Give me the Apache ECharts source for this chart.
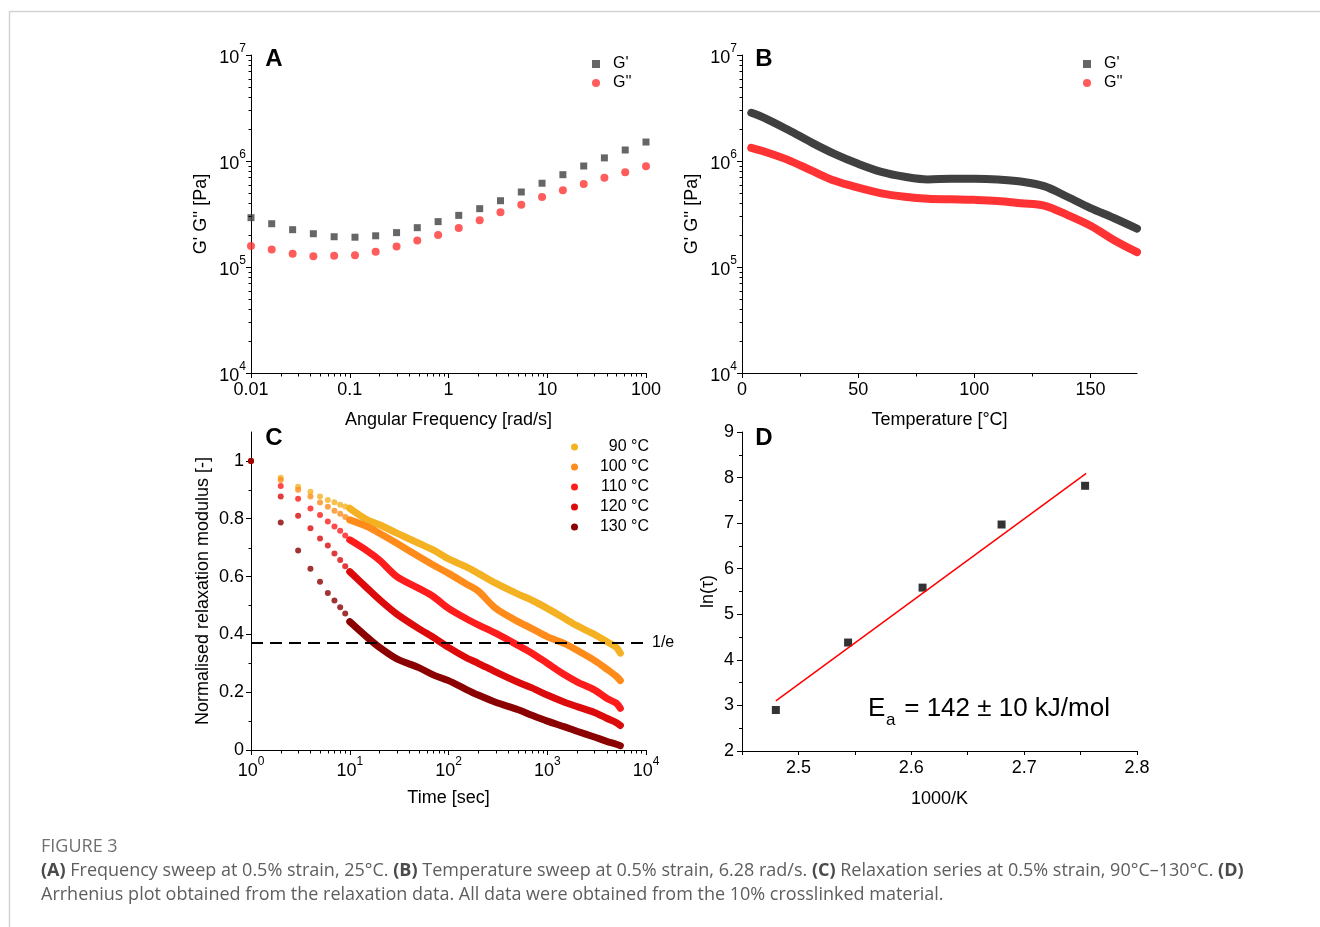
<!DOCTYPE html>
<html><head><meta charset="utf-8">
<script src="https://cdn.jsdelivr.net/npm/echarts@6/dist/echarts.min.js"></script>
<style>html,body{margin:0;padding:0;background:#fff}#c{width:1320px;height:927px}</style>
</head><body><div id="c"></div><script>
// ---------- Panel A: frequency sweep ----------
const freqA = [0.01,0.0162,0.0264,0.0428,0.0695,0.113,0.183,0.298,0.483,0.785,1.27,2.07,3.36,5.46,8.86,14.4,23.4,37.9,61.6,100];
const gPrimeA = [2.92e5,2.56e5,2.25e5,2.06e5,1.93e5,1.91e5,1.97e5,2.11e5,2.35e5,2.68e5,3.07e5,3.55e5,4.22e5,5.10e5,6.17e5,7.43e5,8.97e5,1.07e6,1.27e6,1.51e6];
const gDoubleA = [1.58e5,1.46e5,1.33e5,1.26e5,1.28e5,1.29e5,1.39e5,1.56e5,1.78e5,2.0e5,2.33e5,2.76e5,3.28e5,3.87e5,4.57e5,5.29e5,6.06e5,6.95e5,7.82e5,8.91e5];
const freqTickLabels = {'-2':'0.01','-1':'0.1','0':'1','1':'10','2':'100'};

// ---------- Panel B: temperature sweep ----------
const tempB = [4,10,20,30,40,50,60,70,80,90,100,110,120,130,140,150,160,170];
const gPrimeB = [2.85e6,2.53e6,1.96e6,1.49e6,1.16e6,9.4e5,7.9e5,7.1e5,6.7e5,6.8e5,6.8e5,6.7e5,6.4e5,5.8e5,4.6e5,3.6e5,2.9e5,2.3e5];
const gDoubleB = [1.33e6,1.22e6,1.02e6,8.1e5,6.5e5,5.6e5,4.95e5,4.6e5,4.4e5,4.35e5,4.3e5,4.2e5,4.0e5,3.8e5,3.1e5,2.45e5,1.8e5,1.38e5];
const tempTicks = [0,50,100,150];
const tempMinor = [25,75,125];

// ---------- Panel C: relaxation ----------
const timeC = [1,2,3,4,5,6,7,8,9,10,15,20,30,50,70,100,150,200,300,500,700,1000,1500,2000,3000,4000,5000,5500];
const relax90  = [1,0.942,0.911,0.893,0.877,0.865,0.857,0.848,0.842,0.836,0.796,0.779,0.750,0.715,0.692,0.661,0.634,0.611,0.577,0.540,0.518,0.490,0.455,0.430,0.400,0.375,0.355,0.335];
const relax100 = [1,0.934,0.900,0.877,0.856,0.841,0.828,0.817,0.806,0.796,0.773,0.750,0.715,0.669,0.640,0.611,0.575,0.550,0.490,0.445,0.420,0.392,0.368,0.345,0.310,0.280,0.255,0.240];
const relax110 = [1,0.913,0.869,0.835,0.813,0.790,0.773,0.758,0.742,0.727,0.689,0.657,0.600,0.559,0.531,0.490,0.455,0.433,0.404,0.363,0.335,0.300,0.260,0.236,0.208,0.179,0.162,0.144];
const relax120 = [1,0.877,0.810,0.767,0.732,0.707,0.680,0.657,0.636,0.617,0.560,0.520,0.470,0.420,0.390,0.355,0.320,0.300,0.270,0.235,0.215,0.190,0.165,0.150,0.130,0.110,0.095,0.085];
const relax130 = [1,0.787,0.690,0.627,0.582,0.543,0.517,0.494,0.472,0.444,0.390,0.355,0.315,0.285,0.260,0.240,0.210,0.190,0.165,0.140,0.120,0.100,0.080,0.065,0.045,0.030,0.020,0.015];
const relaxNames = ['90 °C','100 °C','110 °C','120 °C','130 °C'];
const relaxColors = ['#f4b223','#ff8c1a','#ff1c1c','#dc0a0a','#8b0000'];
const relaxTicks = [0,0.2,0.4,0.6,0.8,1];
const relaxMinor = [0.1,0.3,0.5,0.7,0.9];
const discreteUntil = 9; // index of t = 10 s

// ---------- Panel D: Arrhenius ----------
const invT = [2.480,2.544,2.610,2.680,2.754];
const lnTau = [2.90,4.38,5.585,6.97,7.82];
const fitX = [2.480,2.755];
const fitY = [3.10,8.09];
const dTicks = [2.5,2.6,2.7,2.8];
const dAllTicks = [2.45,2.5,2.55,2.6,2.65,2.7,2.75,2.8];

const minorMults = [2,3,4,5,6,7,8,9];
function logMinor(lo, hi) { const out = []; for (let e = lo; e < hi; e++) minorMults.forEach(m => out.push(m * Math.pow(10, e))); return out; }

const FONT = '"Liberation Sans", Arial, sans-serif';
const FS = 18;
function minorTickSeries(xi, yi, vals, dir, anchor, len) {
  return {
    type: 'custom', xAxisIndex: xi, yAxisIndex: yi, silent: true, clip: false, z: 5,
    data: vals.map(v => dir === 'x' ? [v, anchor] : [anchor, v]),
    renderItem: (params, api) => {
      const p = api.coord([api.value(0), api.value(1)]);
      const x = Math.round(p[0]) + 0.5, y = Math.round(p[1]) + 0.5;
      return { type: 'line', shape: dir === 'x' ? {x1: x, y1: y, x2: x, y2: y + len} : {x1: x - len, y1: y, x2: x, y2: y},
               style: {stroke: '#000', lineWidth: 1} };
    }
  };
}
const supRich = {
  b: {fontSize: FS, fontFamily: FONT, color: '#000', lineHeight: 24, verticalAlign: 'bottom'},
  s: {fontSize: 12, fontFamily: FONT, color: '#000', lineHeight: 11, verticalAlign: 'top'}
};
const powLabel = v => '{b|10}{s|' + Math.round(Math.log10(v)) + '}';
const lbl = extra => Object.assign({color: '#000', fontSize: FS, fontFamily: FONT}, extra);
function baseAxis(extra) {
  return Object.assign({
    axisLine: {show: true, onZero: false, lineStyle: {color: '#000', width: 1}},
    axisTick: {show: true, inside: false, length: 5, lineStyle: {color: '#000', width: 1}},
    splitLine: {show: false},
    axisLabel: lbl({}),
    nameLocation: 'middle',
    nameTextStyle: {color: '#000', fontSize: FS, fontFamily: FONT}
  }, extra);
}

const xAxes = [
  baseAxis({gridIndex: 0, type: 'log', logBase: 10, min: 0.01, max: 100, name: 'Angular Frequency [rad/s]', nameGap: 38,
    axisLabel: lbl({margin: 8, formatter: v => freqTickLabels[String(Math.round(Math.log10(v)))]})}),
  baseAxis({gridIndex: 1, type: 'value', min: 0, max: 170, name: 'Temperature [°C]', nameGap: 38,
    axisTick: {show: true, length: 5, lineStyle: {color: '#000'}, customValues: tempTicks},
    axisLabel: lbl({margin: 8, customValues: tempTicks})}),
  baseAxis({gridIndex: 2, type: 'log', logBase: 10, min: 1, max: 10000, name: 'Time [sec]', nameGap: 39,
    axisLabel: {margin: 6, formatter: powLabel, rich: supRich}}),
  baseAxis({gridIndex: 3, type: 'value', min: 2.45, max: 2.8, name: '1000/K', nameGap: 39,
    axisTick: {show: true, length: 4, lineStyle: {color: '#000'}, customValues: dAllTicks},
    axisLabel: lbl({margin: 8, customValues: dTicks, formatter: v => v.toFixed(1)})})
];
const yAxes = [
  baseAxis({gridIndex: 0, type: 'log', logBase: 10, min: 1e4, max: 1e7, name: "G' G'' [Pa]", nameGap: 41,
    axisLabel: {margin: 5, formatter: powLabel, rich: supRich}}),
  baseAxis({gridIndex: 1, type: 'log', logBase: 10, min: 1e4, max: 1e7, name: "G' G'' [Pa]", nameGap: 41,
    axisLabel: {margin: 5, formatter: powLabel, rich: supRich}}),
  baseAxis({gridIndex: 2, type: 'value', min: 0, max: 1.1, name: 'Normalised relaxation modulus [-]', nameGap: 39,
    axisTick: {show: true, length: 5, lineStyle: {color: '#000'}, customValues: relaxTicks},
    axisLabel: lbl({margin: 7, customValues: relaxTicks,
      formatter: v => (v === 0 ? '0' : (Math.abs(v - 1) < 1e-9 ? '1' : v.toFixed(1)))})}),
  baseAxis({gridIndex: 3, type: 'value', min: 2, max: 9, interval: 1, name: 'ln(τ)', nameGap: 25,
    minorTick: {show: true, splitNumber: 2, length: 3, lineStyle: {color: '#000'}},
    axisLabel: lbl({margin: 8})})
];

const series = [];
// A
series.push({name: "G'", type: 'scatter', xAxisIndex: 0, yAxisIndex: 0, symbol: 'rect', symbolSize: 7,
  itemStyle: {color: '#404040'}, data: freqA.map((f, i) => [f, gPrimeA[i]])});
series.push({name: "G''", type: 'scatter', xAxisIndex: 0, yAxisIndex: 0, symbol: 'circle', symbolSize: 8,
  itemStyle: {color: '#ff3333'}, data: freqA.map((f, i) => [f, gDoubleA[i]])});
// B
series.push({name: "G'", type: 'line', xAxisIndex: 1, yAxisIndex: 1, showSymbol: false, smooth: 0.35,
  itemStyle: {color: '#404040'}, lineStyle: {color: '#404040', width: 8, cap: 'round'}, data: tempB.map((t, i) => [t, gPrimeB[i]])});
series.push({name: "G''", type: 'line', xAxisIndex: 1, yAxisIndex: 1, showSymbol: false, smooth: 0.35,
  itemStyle: {color: '#ff3333'}, lineStyle: {color: '#ff3333', width: 8, cap: 'round'}, data: tempB.map((t, i) => [t, gDoubleB[i]])});
// C
const relaxData = [relax90, relax100, relax110, relax120, relax130];
relaxData.forEach((arr, k) => {
  const pts = timeC.map((t, i) => [t, arr[i]]);
  const line = {name: relaxNames[k], type: 'line', xAxisIndex: 2, yAxisIndex: 2, showSymbol: false, smooth: 0.3,
    itemStyle: {color: relaxColors[k]}, lineStyle: {color: relaxColors[k], width: 7, cap: 'round'}, z: 2 + k,
    data: pts.slice(discreteUntil)};
  if (k === 0) {
    line.markLine = {symbol: 'none', silent: true, z: 20, data: [{yAxis: 1 / Math.E}],
      lineStyle: {type: [12, 7], color: '#000', width: 2},
      label: {show: true, position: 'end', formatter: '1/e', color: '#000', fontSize: 16, fontFamily: FONT, distance: 6}};
  }
  series.push(line);
  series.push({name: relaxNames[k], type: 'scatter', xAxisIndex: 2, yAxisIndex: 2, symbol: 'circle', symbolSize: 6,
    itemStyle: {color: relaxColors[k]}, z: 2 + k, data: pts.slice(0, discreteUntil + 1)});
});
// D
series.push({name: 'fit', type: 'line', xAxisIndex: 3, yAxisIndex: 3, showSymbol: false,
  lineStyle: {color: '#ff0000', width: 1.5}, data: fitX.map((x, i) => [x, fitY[i]])});
series.push({name: 'lnTau', type: 'scatter', xAxisIndex: 3, yAxisIndex: 3, symbol: 'rect', symbolSize: 8,
  itemStyle: {color: '#000'}, data: invT.map((x, i) => [x, lnTau[i]])});
// minor ticks
series.push(minorTickSeries(0, 0, logMinor(-2, 2), 'x', 1e4, 3));
series.push(minorTickSeries(0, 0, logMinor(4, 7), 'y', 0.01, 3));
series.push(minorTickSeries(1, 1, tempMinor, 'x', 1e4, 3));
series.push(minorTickSeries(1, 1, logMinor(4, 7), 'y', 0, 3));
series.push(minorTickSeries(2, 2, logMinor(0, 4), 'x', 0, 3));
series.push(minorTickSeries(2, 2, relaxMinor, 'y', 1, 3));

const legTxt = {color: '#000', fontSize: 16, fontFamily: FONT, padding: [0, 0, 0, 8]};
const legends = [
  {left: 587, top: 51, orient: 'vertical', itemWidth: 8, itemHeight: 8, itemGap: 3, selectedMode: false,
   data: [{name: "G'", icon: 'rect'}, {name: "G''", icon: 'circle'}], textStyle: legTxt},
  {left: 1078, top: 51, orient: 'vertical', itemWidth: 8, itemHeight: 8, itemGap: 3, selectedMode: false,
   data: [{name: "G'", icon: 'rect'}, {name: "G''", icon: 'circle'}], textStyle: legTxt},
  {left: 566, top: 434, orient: 'vertical', itemWidth: 7, itemHeight: 7, itemGap: 4, selectedMode: false,
   data: relaxNames.map(n => ({name: n, icon: 'circle'})),
   formatter: n => '{r|' + n + '}',
   textStyle: {color: '#000', fontSize: 16, fontFamily: FONT, rich: {r: {width: 66, align: 'right', fontSize: 16, fontFamily: FONT, color: '#000'}}}}
];

const letter = (x, y, t) => ({type: 'text', x: x, y: y, style: {text: t, fontSize: 24, fontWeight: 'bold', fontFamily: FONT, fill: '#000', align: 'center', verticalAlign: 'middle'}});
const capFont = '"Open Sans", "Noto Sans", sans-serif';
const graphic = [
  {type: 'line', shape: {x1: 10, y1: 11.5, x2: 1320, y2: 11.5}, style: {stroke: '#d2d2d2', lineWidth: 1.5}},
  {type: 'line', shape: {x1: 9.5, y1: 11, x2: 9.5, y2: 927}, style: {stroke: '#d2d2d2', lineWidth: 1.5}},
  letter(274, 59, 'A'), letter(764, 59, 'B'), letter(274, 438, 'C'), letter(764, 438, 'D'),
  {type: 'text', x: 868, y: 709, style: {text: 'E', fontSize: 26, fontFamily: FONT, fill: '#000', verticalAlign: 'middle'}},
  {type: 'text', x: 886, y: 720, style: {text: 'a', fontSize: 17, fontFamily: FONT, fill: '#000', verticalAlign: 'middle'}},
  {type: 'text', x: 897, y: 709, style: {text: ' = 142 ± 10 kJ/mol', fontSize: 26, fontFamily: FONT, fill: '#000', verticalAlign: 'middle'}},
  {type: 'text', x: 41, y: 847, style: {text: 'FIGURE 3', fontSize: 18, fontFamily: capFont, fill: '#707070', verticalAlign: 'middle'}},
  {type: 'text', x: 41, y: 871, style: {
    text: '{b|(A)} Frequency sweep at 0.5% strain, 25°C. {b|(B)} Temperature sweep at 0.5% strain, 6.28 rad/s. {b|(C)} Relaxation series at 0.5% strain, 90°C–130°C. {b|(D)}',
    fontSize: 18, fontFamily: capFont, fill: '#5e5e5e', verticalAlign: 'middle',
    rich: {b: {fontWeight: 'bold', fontSize: 18, fontFamily: capFont, fill: '#4a4a4a'}}}},
  {type: 'text', x: 41, y: 895, style: {
    text: 'Arrhenius plot obtained from the relaxation data. All data were obtained from the 10% crosslinked material.',
    fontSize: 18, fontFamily: capFont, fill: '#5e5e5e', verticalAlign: 'middle'}}
];

const chart = echarts.init(document.getElementById('c'), null, {renderer: 'canvas'});
chart.setOption({
  animation: false,
  backgroundColor: '#fff',
  grid: [
    {left: 251, top: 55, width: 395, height: 318},
    {left: 742, top: 55, width: 395, height: 318},
    {left: 251, top: 432, width: 395, height: 318},
    {left: 742, top: 432, width: 395, height: 319}
  ],
  xAxis: xAxes, yAxis: yAxes, legend: legends, series: series, graphic: graphic
});
</script></body></html>
